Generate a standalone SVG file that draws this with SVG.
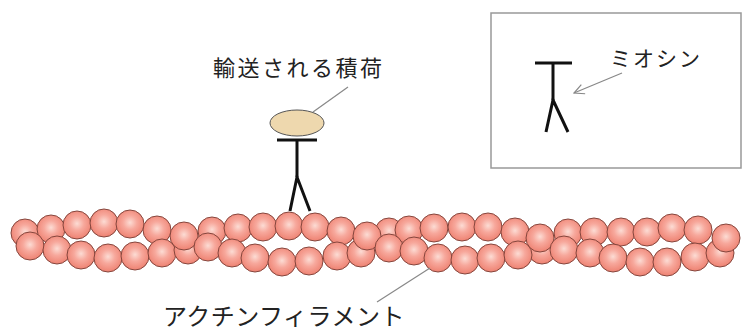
<svg xmlns="http://www.w3.org/2000/svg" width="744" height="334" viewBox="0 0 744 334">
  <style>
    .label { font-family: "Noto Sans CJK JP", "Noto Sans", sans-serif; fill: #222; }
    .stick { stroke: #111; stroke-width: 3; fill: none; stroke-linecap: butt; }
    .lead { stroke: #888; stroke-width: 1.2; fill: none; }
    .bead { fill: url(#beadShade); stroke: #85463d; stroke-width: 1; }
  </style>
  <defs>
    <radialGradient id="beadShade" cx="0.5" cy="0.45" r="0.55">
      <stop offset="0" stop-color="#fcdcd4"/>
      <stop offset="0.45" stop-color="#f7a89c"/>
      <stop offset="1" stop-color="#ee8272"/>
    </radialGradient>
    <marker id="openArrow" viewBox="0 0 12 12" refX="11" refY="6" markerWidth="12" markerHeight="12" markerUnits="userSpaceOnUse" orient="auto">
      <path d="M1,1 L11,6 L1,11" fill="none" stroke="#888" stroke-width="1.2"/>
    </marker>
    <circle id="b" r="14" class="bead"/>
  </defs>

  <rect width="744" height="334" fill="#ffffff"/>

  <!-- two-stranded actin filament: beads drawn back to front -->
  <g id="actin-filament">
    <!-- left section: upper strand -->
    <use href="#b" x="25" y="233"/>
    <use href="#b" x="51" y="229"/>
    <use href="#b" x="77" y="225"/>
    <use href="#b" x="104" y="223"/>
    <use href="#b" x="130" y="224"/>
    <use href="#b" x="157" y="230"/>
    <!-- left section: lower strand -->
    <use href="#b" x="30" y="246"/>
    <use href="#b" x="57" y="250"/>
    <use href="#b" x="81" y="255"/>
    <use href="#b" x="108" y="258"/>
    <use href="#b" x="135" y="256"/>
    <use href="#b" x="162" y="253"/>
    <!-- first crossover -->
    <use href="#b" x="188" y="250"/>
    <use href="#b" x="212" y="231"/>
    <use href="#b" x="184" y="236"/>
    <use href="#b" x="238" y="228"/>
    <use href="#b" x="263" y="227"/>
    <use href="#b" x="289" y="226"/>
    <use href="#b" x="315" y="227"/>
    <use href="#b" x="341" y="231"/>
    <use href="#b" x="208" y="247"/>
    <use href="#b" x="232" y="253"/>
    <use href="#b" x="255" y="258"/>
    <use href="#b" x="282" y="262"/>
    <use href="#b" x="309" y="261"/>
    <use href="#b" x="337" y="256"/>
    <!-- second crossover -->
    <use href="#b" x="361" y="253"/>
    <use href="#b" x="389" y="232"/>
    <use href="#b" x="409" y="230"/>
    <use href="#b" x="367" y="236"/>
    <use href="#b" x="389" y="248"/>
    <use href="#b" x="434" y="228"/>
    <use href="#b" x="462" y="227"/>
    <use href="#b" x="488" y="227"/>
    <use href="#b" x="414" y="251"/>
    <use href="#b" x="438" y="258"/>
    <use href="#b" x="465" y="260"/>
    <use href="#b" x="491" y="258"/>
    <!-- third crossover -->
    <use href="#b" x="542" y="250"/>
    <use href="#b" x="568" y="233"/>
    <use href="#b" x="515" y="232"/>
    <use href="#b" x="518" y="255"/>
    <use href="#b" x="540" y="238"/>
    <use href="#b" x="564" y="250"/>
    <!-- right section -->
    <use href="#b" x="594" y="232"/>
    <use href="#b" x="621" y="232"/>
    <use href="#b" x="647" y="232"/>
    <use href="#b" x="672" y="228"/>
    <use href="#b" x="698" y="230"/>
    <use href="#b" x="590" y="253"/>
    <use href="#b" x="613" y="258"/>
    <use href="#b" x="640" y="262"/>
    <use href="#b" x="667" y="262"/>
    <use href="#b" x="695" y="257"/>
    <use href="#b" x="720" y="253"/>
    <use href="#b" x="726" y="238"/>
  </g>

  <!-- myosin walking on the filament -->
  <g id="myosin">
    <line class="stick" x1="277" y1="140" x2="317" y2="140"/>
    <line class="stick" x1="297" y1="140" x2="297" y2="177"/>
    <polyline class="stick" points="290,211 297,177 310,211"/>
  </g>

  <!-- cargo carried by myosin -->
  <g id="cargo">
    <ellipse cx="297" cy="123" rx="27" ry="13" fill="#eed8ae" stroke="#555" stroke-width="1"/>
    <text class="label" x="213" y="76" font-size="22" letter-spacing="2.5">輸送される積荷</text>
  </g>

  <!-- legend box: the myosin symbol -->
  <g id="legend">
    <rect x="491" y="13" width="250" height="155" fill="none" stroke="#999" stroke-width="1.5"/>
    <line class="stick" x1="535" y1="63" x2="572" y2="63"/>
    <line class="stick" x1="553" y1="63" x2="553" y2="100"/>
    <polyline class="stick" points="546,132 553,100 568,132"/>
    <text class="label" x="610" y="66" font-size="21" letter-spacing="2">ミオシン</text>
  </g>

  <!-- actin label -->
  <g id="actin-label">
    <text class="label" x="163" y="325" font-size="24" letter-spacing="0.5">アクチンフィラメント</text>
  </g>

  <!-- leader lines -->
  <g id="connectors">
    <line class="lead" x1="313" y1="112" x2="348" y2="87"/>
    <line class="lead" x1="622" y1="73" x2="574" y2="93" marker-end="url(#openArrow)"/>
    <line class="lead" x1="430" y1="268" x2="377" y2="302"/>
  </g>
</svg>
